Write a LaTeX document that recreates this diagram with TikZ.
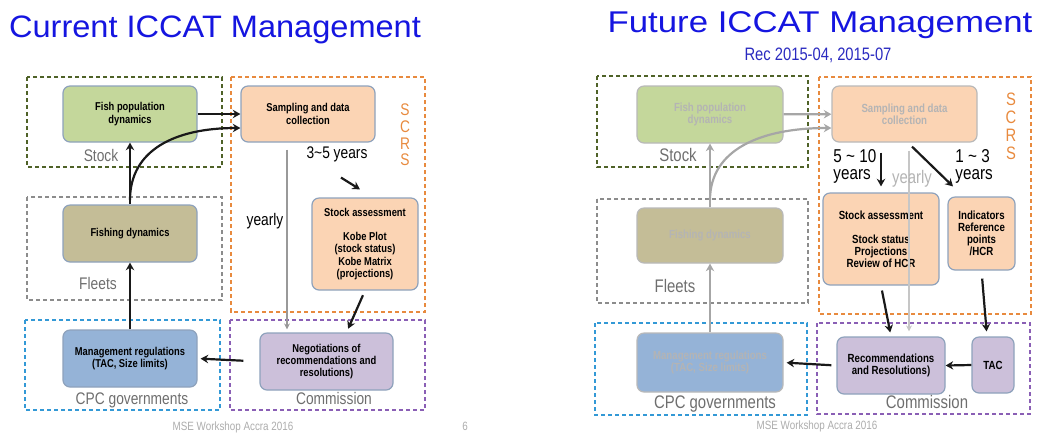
\documentclass[tikz,border=0pt]{standalone}
\usepackage{fontspec}
\setmainfont{Liberation Sans}
\newfontfamily\narrowsans[FakeStretch=0.82]{Liberation Sans}
\newfontfamily\titlesans[FakeStretch=1.05]{Liberation Sans}
\newfontfamily\widetitlesans[FakeStretch=1.16]{Liberation Sans}
\usepackage{tikz}
\usetikzlibrary{arrows.meta}
\definecolor{titleblue}{HTML}{1515E0}
\definecolor{recblue}{HTML}{2A2AC0}
\definecolor{boxline}{HTML}{8EA2BC}
\definecolor{popgreen}{HTML}{C4D79B}
\definecolor{peach}{HTML}{FBD4B4}
\definecolor{khaki}{HTML}{C4BD97}
\definecolor{steel}{HTML}{95B3D7}
\definecolor{lilac}{HTML}{CCC0DA}
\definecolor{stockgreen}{HTML}{4F6228}
\definecolor{fleetgray}{HTML}{8C8C8C}
\definecolor{scrsorange}{HTML}{E88A3E}
\definecolor{cpcblue}{HTML}{3399D6}
\definecolor{commpurple}{HTML}{8A5FB5}
\definecolor{labelgray}{HTML}{6E6E6E}
\definecolor{fadedtext}{HTML}{B4B4B4}

\begin{document}
\begin{tikzpicture}[
  x=0.5pt, y=-0.5pt,
  box/.style={draw=boxline, line width=0.6pt, rounded corners=3.5pt, align=center, inner sep=0pt,
    font=\narrowsans\bfseries\fontsize{5.7}{6.2}\selectfont},
  boxR/.style={box, font=\narrowsans\bfseries\fontsize{5.9}{6}\selectfont},
  faded/.style={draw=gray!55, text=fadedtext},
  grp/.style={line width=1pt, dash pattern=on 2.2pt off 1.3pt},
  lbl/.style={anchor=base, text=labelgray, font=\narrowsans\fontsize{8.4}{9}\selectfont},
  lblR/.style={lbl, font=\narrowsans\fontsize{9.1}{9.5}\selectfont},
  scrs/.style={align=center, text=scrsorange, inner sep=0pt},
  yrs/.style={font=\narrowsans\fontsize{8.4}{9}\selectfont},
  foot/.style={anchor=base, text=gray!65, font=\narrowsans\fontsize{6}{6}\selectfont},
  rel/.style={-{Stealth[length=3.8pt,width=4.2pt]}, line width=1.1pt, color=black!90},
  grel/.style={rel, color=gray!70},
  yearlyline/.style={-{Stealth[length=3pt,width=3pt]}, line width=0.6pt, color=gray!80}
]
\useasboundingbox (0,0) rectangle (1042,436);

\node[anchor=base, text=titleblue, font=\titlesans\fontsize{15.5}{16}\selectfont] (titleL) at (215,37) {Current ICCAT Management};
\node[anchor=base, text=titleblue, font=\widetitlesans\fontsize{15}{16}\selectfont] (titleR) at (820,32) {Future ICCAT Management};
\node[anchor=base, text=recblue, font=\narrowsans\fontsize{9}{9}\selectfont] (recno) at (818,60) {Rec 2015-04, 2015-07};

\draw[grp, draw=stockgreen] (27,77) rectangle (222,167);
\draw[grp, draw=fleetgray] (27,197) rectangle (222,300);
\draw[grp, draw=scrsorange] (231,77) rectangle (425,312);
\draw[grp, draw=cpcblue] (25,320) rectangle (220,410);
\draw[grp, draw=commpurple] (230,320) rectangle (425,410);

\node[box, fill=popgreen, minimum width=67pt, minimum height=28pt] (fishL) at (130,114) {Fish population\\dynamics};
\node[box, fill=peach, minimum width=67pt, minimum height=28pt] (sampL) at (308,114) {Sampling and data\\collection};
\node[box, fill=khaki, minimum width=67pt, minimum height=28.5pt] (fishdynL) at (130,233.5) {Fishing dynamics};
\node[box, fill=steel, minimum width=67pt, minimum height=28.5pt] (mgmtL) at (130,358.5) {Management regulations\\(TAC, Size limits)};
\node[box, fill=lilac, minimum width=66.5pt, minimum height=28.5pt] (negL) at (326.5,361.5) {Negotiations of\\recommendations and\\resolutions)};
\node[box, fill=peach, minimum width=53pt, minimum height=46pt] (assessL) at (365,244) {Stock assessment\\[6pt]Kobe Plot\\(stock status)\\Kobe Matrix\\(projections)};

\node[lbl] (stockL) at (101,161) {Stock};
\node[lbl] (fleetsL) at (98,289) {Fleets};
\node[lbl] (cpcL) at (132,404) {CPC governments};
\node[lbl] (commL) at (334,404) {Commission};
\node[scrs, font=\narrowsans\fontsize{8.4}{8.3}\selectfont] (scrsL) at (405,135) {S\\C\\R\\S};
\node[yrs, anchor=base] (yrsL) at (337,158) {3\textasciitilde5 years};
\node[yrs, anchor=base] (yearlyL) at (265,225) {yearly};

\coordinate (forkL) at (130,200);
\draw[rel] (fishL) -- (sampL);
\draw[rel] (fishdynL) -- (fishL);
\draw[rel] (forkL) .. controls (130,150) and (175,128) .. ([yshift=-7pt]sampL.west);
\draw[rel] (mgmtL) -- (fishdynL);
\draw[rel, shorten <=8pt, shorten >=1.5pt] (negL.west) -- (mgmtL.east);
\draw[rel, shorten <=2.5pt, shorten >=2pt] (assessL.south) -- ([xshift=10pt]negL.north);
\draw[rel] ([shift={(2pt,-4.5pt)}]yrsL.south) -- ([shift={(-2.5pt,4pt)}]assessL.north);
\draw[yearlyline, shorten <=3.5pt, shorten >=1.5pt] ([xshift=-10.5pt]sampL.south) -- ([xshift=-19.75pt]negL.north);

\node[foot] (footL) at (233,430) {MSE Workshop Accra 2016};
\node[foot] (pageL) at (465,430) {6};

\draw[grp, draw=stockgreen] (597,76) rectangle (808,167);
\draw[grp, draw=fleetgray] (597,199) rectangle (808,303);
\draw[grp, draw=scrsorange] (819,77) rectangle (1031,314);
\draw[grp, draw=cpcblue] (595,323) rectangle (807,415);
\draw[grp, draw=commpurple] (817,323) rectangle (1030,414);

\node[boxR, faded, fill=popgreen, minimum width=73pt, minimum height=28.5pt] (fishR) at (710,114.5) {Fish population\\dynamics};
\node[boxR, faded, fill=peach, minimum width=72.5pt, minimum height=28pt] (sampR) at (904.5,114) {Sampling and data\\collection};
\node[boxR, faded, fill=khaki, minimum width=73pt, minimum height=27.5pt] (fishdynR) at (710,235.5) {Fishing dynamics};
\node[boxR, faded, fill=steel, minimum width=73pt, minimum height=29.5pt] (mgmtR) at (710,362.5) {Management regulations\\(TAC, Size limits)};
\node[boxR, fill=peach, minimum width=58pt, minimum height=46pt] (assessR) at (881,239) {Stock assessment\\[6pt]Stock status\\Projections\\Review of HCR};
\node[boxR, fill=peach, minimum width=33.5pt, minimum height=36.5pt] (indR) at (981.5,233.5) {Indicators\\Reference\\points\\/HCR};
\node[boxR, fill=lilac, minimum width=54pt, minimum height=28.5pt] (recR) at (891,365.5) {Recommendations\\and Resolutions)};
\node[boxR, fill=lilac, minimum width=21pt, minimum height=28pt] (tacR) at (993,365) {TAC};

\node[lblR] (stockR) at (678,161) {Stock};
\node[lblR] (fleetsR) at (675,292) {Fleets};
\node[lblR] (cpcR) at (715,408) {CPC governments};
\node[lblR] (commR) at (927,408) {Commission};
\node[scrs, font=\narrowsans\fontsize{9}{9}\selectfont] (scrsR) at (1011,126) {S\\C\\R\\S};
\node[yrs, font=\narrowsans\fontsize{9.3}{8.5}\selectfont, align=left, anchor=west, inner sep=0pt] (longR) at (833,166) {5 \textasciitilde{} 10\\years};
\node[yrs, font=\narrowsans\fontsize{9.3}{8.5}\selectfont, align=left, anchor=west, inner sep=0pt] (shortR) at (955,166) {1 \textasciitilde{} 3\\years};

\coordinate (forkR) at (710,200);
\draw[grel] (fishR) -- (sampR);
\draw[grel] (fishdynR) -- (fishR);
\draw[grel] (forkR) .. controls (710,150) and (760,128) .. ([yshift=-7pt]sampR.west);
\draw[grel] (mgmtR) -- (fishdynR);
\draw[yearlyline, color=gray!45, shorten <=4pt, shorten >=2.5pt] ([xshift=2.25pt]sampR.south) -- ([xshift=9pt]recR.north);
\node[yrs, anchor=base, text=fadedtext, font=\narrowsans\fontsize{9.1}{9}\selectfont] (yearlyR) at (912,183) {yearly};
\draw[rel, shorten <=5pt, shorten >=3pt] (assessR.north |- sampR.south) -- (assessR.north);
\draw[rel] ([shift={(3.75pt,-2pt)}]sampR.south) -- ([shift={(-14.25pt,5pt)}]indR.north);
\draw[rel, shorten <=2.5pt, shorten >=2pt] (assessR.south) -- (recR.north);
\draw[rel, shorten <=4pt, shorten >=2.5pt] (indR.south) -- ([xshift=-3pt]tacR.north);
\draw[rel] (tacR.west) -- (recR.east);
\draw[rel, shorten <=2.5pt, shorten >=1.5pt] (recR.west) -- (mgmtR.east);

\node[foot] (footR) at (817,429) {MSE Workshop Accra 2016};
\end{tikzpicture}
\end{document}
